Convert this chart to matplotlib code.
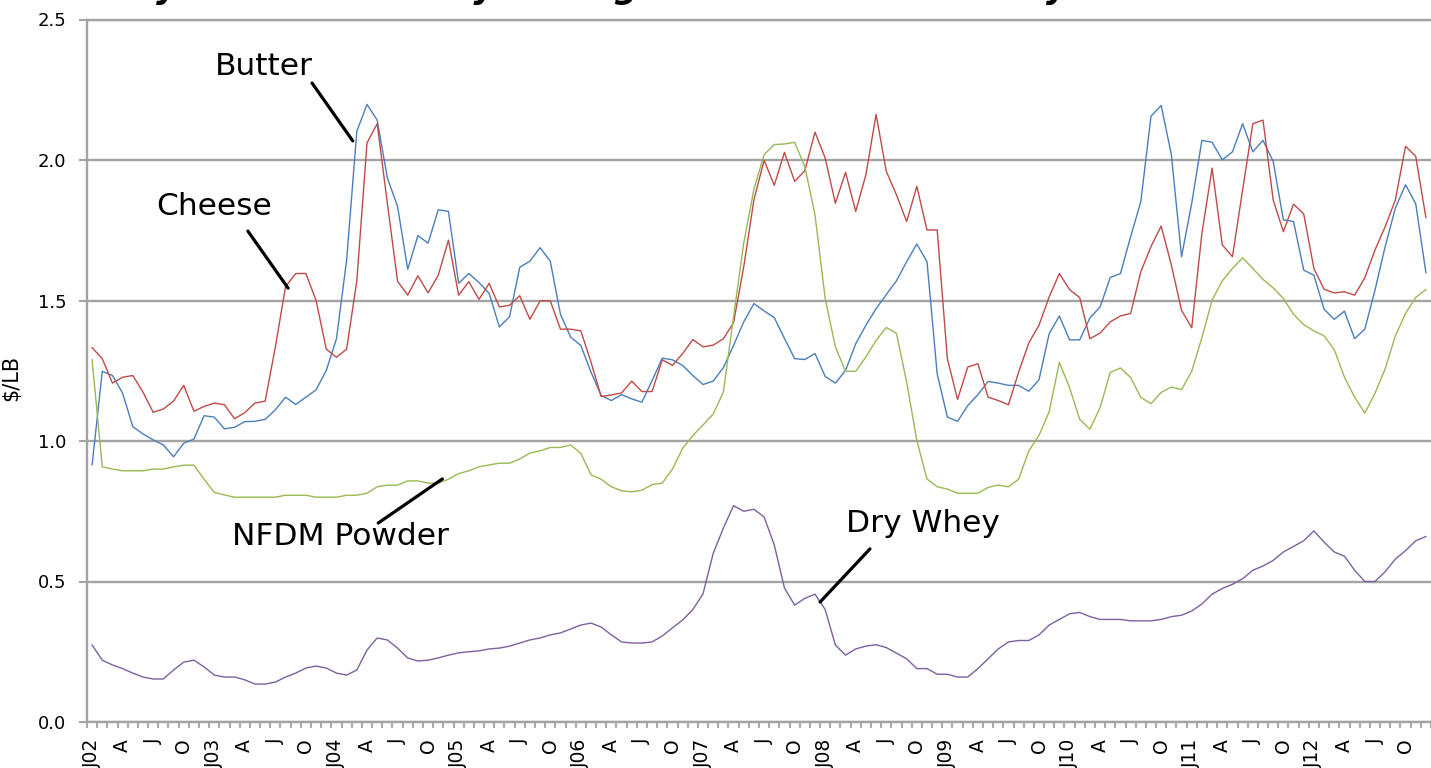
import matplotlib
matplotlib.use('Agg')
import matplotlib.pyplot as plt

# monthly prices, Jan 2002 - Dec 2012 ($/LB)
butter = [0.915, 1.248, 1.233, 1.17, 1.051, 1.025, 1.004, 0.986, 0.944, 0.992, 1.007, 1.09,
          1.085, 1.043, 1.049, 1.069, 1.07, 1.077, 1.111, 1.156, 1.13, 1.156, 1.182, 1.251,
          1.364, 1.644, 2.102, 2.198, 2.142, 1.936, 1.835, 1.611, 1.731, 1.704, 1.823, 1.817,
          1.561, 1.596, 1.564, 1.525, 1.406, 1.442, 1.618, 1.64, 1.688, 1.64, 1.451, 1.37,
          1.34, 1.245, 1.162, 1.144, 1.165, 1.15, 1.138, 1.215, 1.295, 1.289, 1.269, 1.233,
          1.201, 1.213, 1.261, 1.34, 1.424, 1.489, 1.463, 1.439, 1.365, 1.293, 1.29, 1.311,
          1.23, 1.206, 1.251, 1.346, 1.412, 1.471, 1.521, 1.57, 1.638, 1.701, 1.638, 1.239,
          1.085, 1.07, 1.126, 1.165, 1.212, 1.206, 1.198, 1.198, 1.177, 1.218, 1.382, 1.445,
          1.36, 1.36, 1.438, 1.477, 1.582, 1.596, 1.727, 1.852, 2.156, 2.194, 2.019, 1.656,
          1.846, 2.07, 2.063, 2.001, 2.029, 2.129, 2.029, 2.07, 1.995, 1.787, 1.781, 1.608,
          1.59, 1.469, 1.433, 1.462, 1.364, 1.398, 1.537, 1.692, 1.829, 1.912, 1.844, 1.599]
cheese = [1.332, 1.293, 1.206, 1.227, 1.233, 1.174, 1.102, 1.114, 1.142, 1.198, 1.106, 1.123,
          1.135, 1.129, 1.079, 1.101, 1.135, 1.142, 1.335, 1.549, 1.596, 1.596, 1.50, 1.327,
          1.298, 1.327, 1.57, 2.061, 2.129, 1.846, 1.569, 1.519, 1.588, 1.527, 1.59, 1.715,
          1.519, 1.567, 1.504, 1.561, 1.477, 1.483, 1.517, 1.433, 1.499, 1.499, 1.398, 1.398,
          1.392, 1.281, 1.158, 1.164, 1.171, 1.213, 1.176, 1.176, 1.289, 1.269, 1.311, 1.361,
          1.335, 1.341, 1.364, 1.421, 1.62, 1.858, 1.999, 1.91, 2.027, 1.924, 1.962, 2.099,
          2.007, 1.846, 1.956, 1.817, 1.948, 2.162, 1.96, 1.876, 1.781, 1.906, 1.751, 1.751,
          1.293, 1.148, 1.263, 1.275, 1.156, 1.144, 1.129, 1.245, 1.349, 1.412, 1.513, 1.596,
          1.539, 1.51, 1.364, 1.384, 1.424, 1.445, 1.454, 1.602, 1.692, 1.765, 1.626, 1.465,
          1.403, 1.739, 1.971, 1.698, 1.656, 1.894, 2.129, 2.142, 1.858, 1.745, 1.843, 1.808,
          1.614, 1.54, 1.527, 1.531, 1.519, 1.581, 1.68, 1.763, 1.858, 2.049, 2.013, 1.795]
nfdm = [1.289, 0.908, 0.90, 0.894, 0.894, 0.894, 0.90, 0.90, 0.908, 0.914, 0.914, 0.864,
        0.817, 0.808, 0.80, 0.80, 0.80, 0.80, 0.80, 0.807, 0.807, 0.807, 0.80, 0.80,
        0.80, 0.807, 0.807, 0.814, 0.837, 0.843, 0.843, 0.858, 0.858, 0.85, 0.85, 0.864,
        0.884, 0.894, 0.908, 0.915, 0.921, 0.921, 0.936, 0.957, 0.965, 0.977, 0.977, 0.986,
        0.956, 0.88, 0.864, 0.837, 0.823, 0.819, 0.825, 0.845, 0.85, 0.90, 0.974, 1.019,
        1.057, 1.096, 1.174, 1.442, 1.704, 1.896, 2.019, 2.055, 2.057, 2.063, 1.977, 1.805,
        1.507, 1.335, 1.248, 1.248, 1.299, 1.358, 1.404, 1.383, 1.21, 1.002, 0.865, 0.837,
        0.829, 0.814, 0.814, 0.814, 0.835, 0.843, 0.837, 0.864, 0.965, 1.02, 1.104, 1.28,
        1.19, 1.077, 1.042, 1.119, 1.244, 1.26, 1.226, 1.155, 1.133, 1.173, 1.192, 1.183,
        1.248, 1.368, 1.501, 1.57, 1.614, 1.652, 1.614, 1.575, 1.545, 1.507, 1.451, 1.414,
        1.392, 1.374, 1.325, 1.227, 1.156, 1.099, 1.17, 1.257, 1.374, 1.454, 1.511, 1.539]
whey = [0.274, 0.22, 0.203, 0.19, 0.174, 0.16, 0.153, 0.153, 0.185, 0.213, 0.22, 0.196,
        0.167, 0.16, 0.16, 0.15, 0.135, 0.135, 0.142, 0.16, 0.174, 0.192, 0.199, 0.192,
        0.174, 0.167, 0.185, 0.256, 0.299, 0.292, 0.263, 0.228, 0.217, 0.22, 0.228, 0.238,
        0.246, 0.25, 0.253, 0.26, 0.263, 0.27, 0.281, 0.292, 0.299, 0.31, 0.317, 0.331,
        0.345, 0.352, 0.338, 0.31, 0.285, 0.281, 0.281, 0.285, 0.306, 0.335, 0.363, 0.40,
        0.456, 0.60, 0.69, 0.77, 0.75, 0.757, 0.73, 0.63, 0.477, 0.416, 0.44, 0.455,
        0.40, 0.274, 0.238, 0.26, 0.27, 0.275, 0.265, 0.245, 0.225, 0.19, 0.19, 0.17,
        0.17, 0.16, 0.16, 0.19, 0.225, 0.26, 0.285, 0.29, 0.29, 0.31, 0.345, 0.365,
        0.385, 0.39, 0.375, 0.365, 0.365, 0.365, 0.36, 0.36, 0.36, 0.365, 0.375, 0.38,
        0.395, 0.42, 0.455, 0.475, 0.49, 0.51, 0.54, 0.555, 0.575, 0.605, 0.625, 0.645,
        0.68, 0.64, 0.605, 0.59, 0.54, 0.50, 0.50, 0.535, 0.58, 0.61, 0.645, 0.66]

years = list(range(2002, 2013))
quarter_letters = ['J', 'A', 'J', 'O']

months = list(range(len(butter)))
tick_pos = months[::3]
tick_labels = []
for p in tick_pos:
    q = (p % 12) // 3
    if q == 0:
        tick_labels.append('J%02d' % (years[p // 12] % 100))
    else:
        tick_labels.append(quarter_letters[q])

grey = '#a3a3a3'

fig = plt.figure(figsize=(14.31, 7.68), dpi=100)
ax = fig.add_axes([87 / 1431, 46 / 768, 1344 / 1431, 702.5 / 768])

ax.plot(months, butter, color='#4a7ebb', lw=1.0)
ax.plot(months, cheese, color='#be4b48', lw=1.0)
ax.plot(months, nfdm, color='#98b954', lw=1.0)
ax.plot(months, whey, color='#7d60a0', lw=1.0)

ax.set_xlim(-0.5, len(butter) - 0.5)
ax.set_ylim(0, 2.5)
ax.set_yticks([0, 0.5, 1.0, 1.5, 2.0, 2.5])
ax.set_yticklabels(['0.0', '0.5', '1.0', '1.5', '2.0', '2.5'], fontsize=13)
ax.yaxis.grid(True, color=grey, lw=1.7)
ax.set_axisbelow(True)

ax.set_xticks(tick_pos)
ax.set_xticklabels(tick_labels, rotation=90, fontsize=13.5, va='top', ha='center')
ax.set_xticks([m - 0.5 for m in months] + [len(butter) - 0.5], minor=True)
ax.tick_params(axis='x', which='major', length=0, pad=12)
ax.tick_params(axis='x', which='minor', length=4, width=1.3, color=grey, direction='out')
ax.tick_params(axis='y', length=6, width=1.5, color=grey, pad=9)

ax.spines['right'].set_visible(False)
for s in ['left', 'bottom', 'top']:
    ax.spines[s].set_color(grey)
    ax.spines[s].set_linewidth(1.7)

ax.set_ylabel('$/LB', fontsize=15)
ax.yaxis.set_label_coords(-66 / 1344, 0.49)

# series labels with pointer lines
ax.text(16.9, 2.302, 'Butter', fontsize=22.5, ha='center', va='baseline')
ax.annotate('', xy=(25.6, 2.068), xytext=(21.6, 2.274),
            arrowprops=dict(arrowstyle='-', lw=2.3, color='black', shrinkA=0, shrinkB=0))
ax.text(12.0, 1.804, 'Cheese', fontsize=22.5, ha='center', va='baseline')
ax.annotate('', xy=(19.25, 1.544), xytext=(15.3, 1.747),
            arrowprops=dict(arrowstyle='-', lw=2.3, color='black', shrinkA=0, shrinkB=0))
ax.text(24.4, 0.63, 'NFDM Powder', fontsize=22.5, ha='center', va='baseline')
ax.annotate('', xy=(34.4, 0.865), xytext=(28.1, 0.708),
            arrowprops=dict(arrowstyle='-', lw=2.3, color='black', shrinkA=0, shrinkB=0))
ax.text(81.6, 0.676, 'Dry Whey', fontsize=22.5, ha='center', va='baseline')
ax.annotate('', xy=(71.5, 0.427), xytext=(76.4, 0.616),
            arrowprops=dict(arrowstyle='-', lw=2.3, color='black', shrinkA=0, shrinkB=0))

# title sits mostly above the visible area, as in the source slide
fig.text(25 / 1431, 1.0 + 2 / 768, 'Monthly Wholesale Dairy Average Prices of the Primary Commodities',
         fontsize=24, fontweight='bold', style='italic', ha='left', va='baseline')

fig.savefig('out.png', dpi=100)
plt.close('all')
